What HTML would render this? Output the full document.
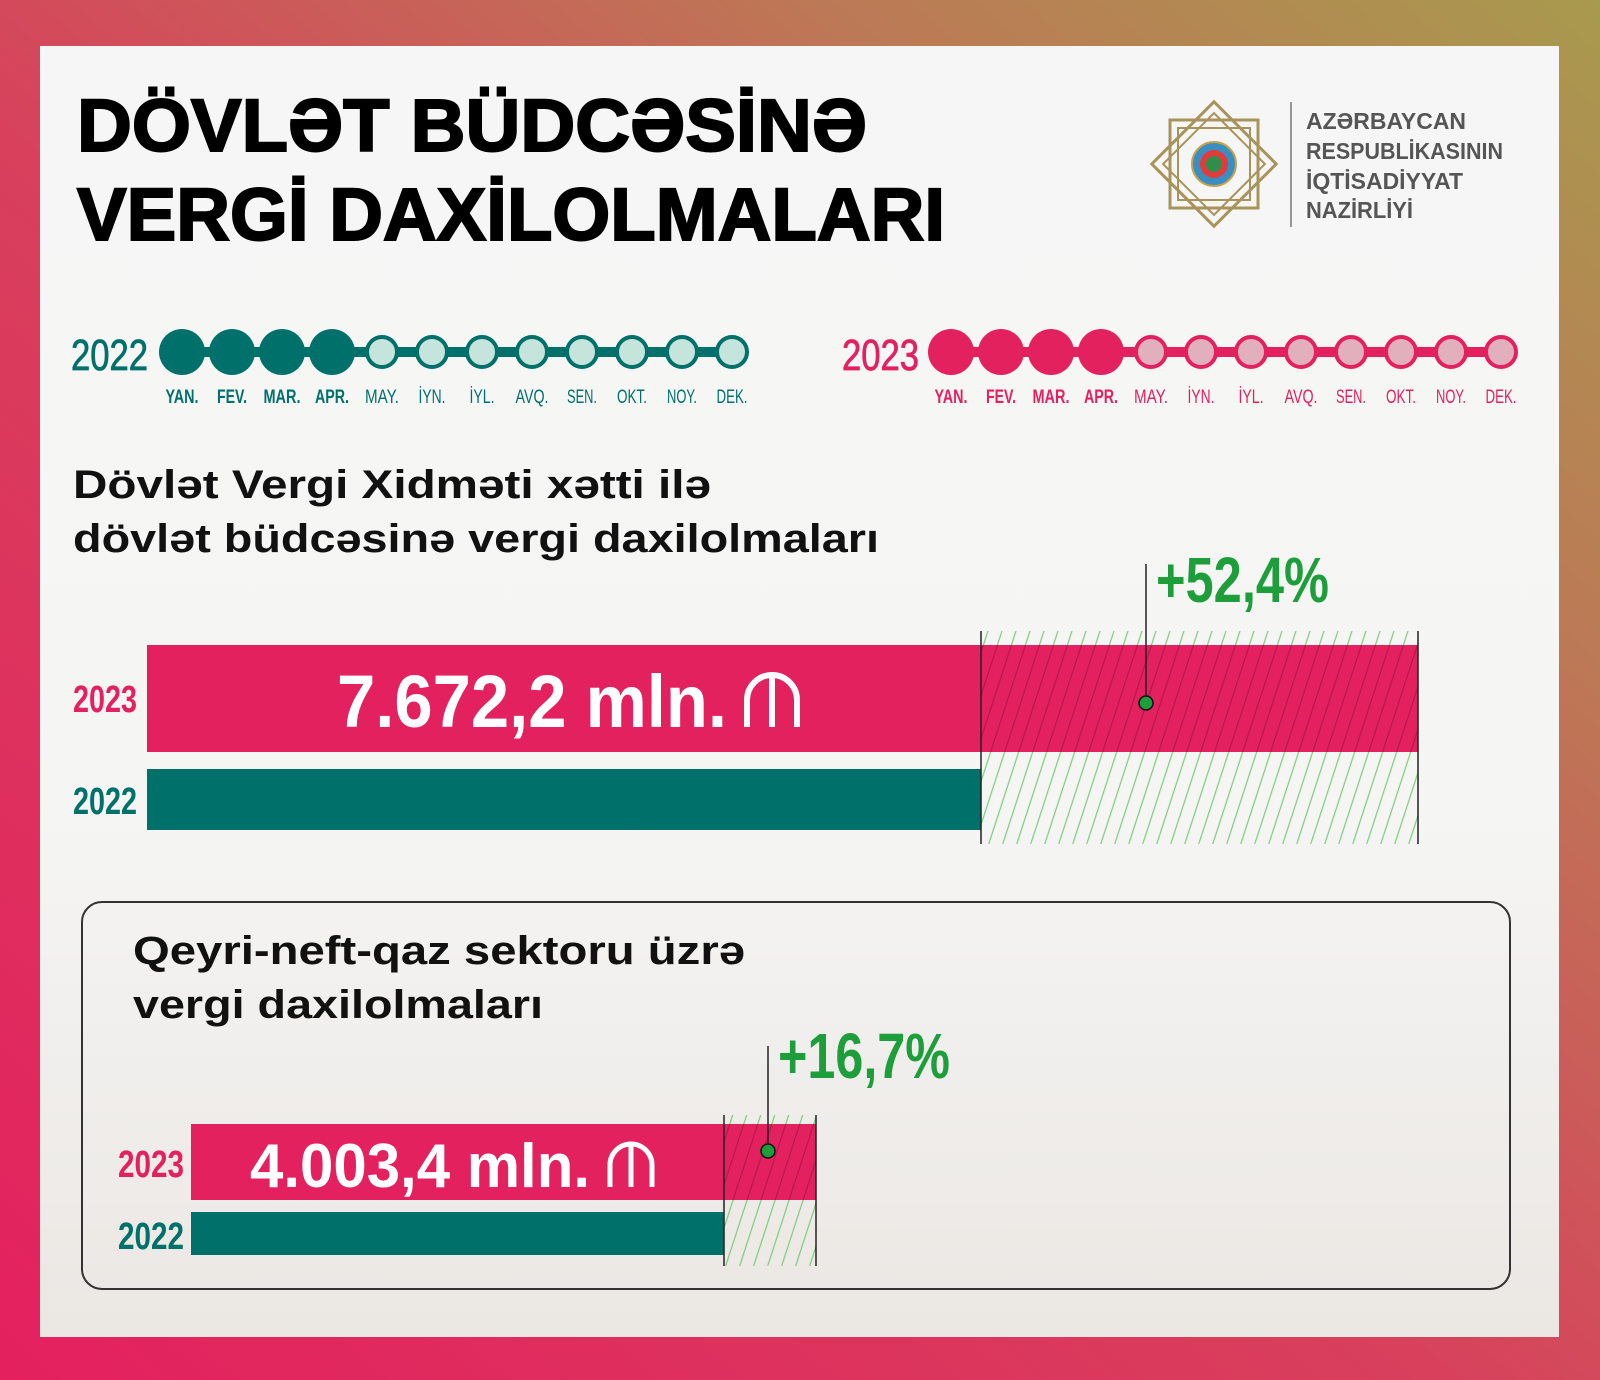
<!DOCTYPE html>
<html><head><meta charset="utf-8"><style>html,body{margin:0;padding:0;width:1600px;height:1380px;overflow:hidden}</style></head>
<body>
<svg width="1600" height="1380" viewBox="0 0 1600 1380" xmlns="http://www.w3.org/2000/svg" font-family="Liberation Sans, sans-serif">
<defs>
<linearGradient id="bg" x1="0" y1="1" x2="1" y2="0">
<stop offset="0" stop-color="#e4205f"/><stop offset="0.45" stop-color="#d8405c"/><stop offset="0.75" stop-color="#bd7856"/><stop offset="1" stop-color="#a89a4e"/>
</linearGradient>
<linearGradient id="inner" x1="0" y1="0" x2="0" y2="1">
<stop offset="0" stop-color="#f6f6f6"/><stop offset="0.6" stop-color="#f5f5f4"/><stop offset="1" stop-color="#ebe7e3"/>
</linearGradient>
<pattern id="hg" width="14" height="40" patternUnits="userSpaceOnUse" patternTransform="skewX(-18)">
<line x1="3" y1="0" x2="3" y2="40" stroke="#7fcb7f" stroke-width="1.3"/>
</pattern>
<pattern id="hp" width="14" height="40" patternUnits="userSpaceOnUse" patternTransform="skewX(-18)">
<line x1="3" y1="0" x2="3" y2="40" stroke="#b8164c" stroke-width="1.3"/>
</pattern>
</defs>
<rect width="1600" height="1380" fill="url(#bg)"/>
<rect x="40" y="46" width="1519" height="1291" fill="url(#inner)"/>

<!-- Title -->
<text x="77" y="151" font-size="74" font-weight="bold" textLength="790" lengthAdjust="spacingAndGlyphs" fill="#000" stroke="#000" stroke-width="2">DÖVLƏT BÜDCƏSİNƏ</text>
<text x="77" y="240" font-size="74" font-weight="bold" textLength="868" lengthAdjust="spacingAndGlyphs" fill="#000" stroke="#000" stroke-width="2">VERGİ DAXİLOLMALARI</text>

<!-- Logo -->
<g transform="translate(1214,164)" fill="none" stroke="#a8945a" stroke-width="3">
<rect x="-44" y="-44" width="88" height="88"/>
<rect x="-44" y="-44" width="88" height="88" transform="rotate(45)"/>
<rect x="-36" y="-36" width="72" height="72" stroke-width="2"/>
<rect x="-36" y="-36" width="72" height="72" transform="rotate(45)" stroke-width="2"/>
<circle r="22" fill="#3a8fc0" stroke="#c9a24a" stroke-width="2"/>
<circle r="14" fill="#e23b3b" stroke="none"/>
<circle r="8" fill="#2f8f4a" stroke="none"/>
</g>
<line x1="1291" y1="102" x2="1291" y2="227" stroke="#777" stroke-width="1.5"/>
<g font-size="23" font-weight="bold" fill="#555">
<text x="1306" y="129" textLength="160" lengthAdjust="spacingAndGlyphs">AZƏRBAYCAN</text>
<text x="1306" y="159" textLength="197" lengthAdjust="spacingAndGlyphs">RESPUBLİKASININ</text>
<text x="1306" y="189" textLength="157" lengthAdjust="spacingAndGlyphs">İQTİSADİYYAT</text>
<text x="1306" y="218" textLength="107" lengthAdjust="spacingAndGlyphs">NAZİRLİYİ</text>
</g>

<!-- Timeline 2022 -->
<text x="71" y="370" font-size="44" fill="#00706b" textLength="77" lengthAdjust="spacingAndGlyphs" stroke="#00706b" stroke-width="0.8">2022</text>
<rect x="182" y="347" width="550" height="10" fill="#00706b"/>
<g fill="#00706b">
<circle cx="182" cy="352" r="23"/><circle cx="232" cy="352" r="23"/><circle cx="282" cy="352" r="23"/><circle cx="332" cy="352" r="23"/>
</g>
<g fill="#c5e4dc" stroke="#00706b" stroke-width="4">
<circle cx="382" cy="352" r="15"/><circle cx="432" cy="352" r="15"/><circle cx="482" cy="352" r="15"/><circle cx="532" cy="352" r="15"/><circle cx="582" cy="352" r="15"/><circle cx="632" cy="352" r="15"/><circle cx="682" cy="352" r="15"/><circle cx="732" cy="352" r="15"/>
</g>
<g font-size="19" fill="#00706b" text-anchor="middle" lengthAdjust="spacingAndGlyphs">
<text x="182" y="403" font-weight="bold" textLength="33" lengthAdjust="spacingAndGlyphs">YAN.</text><text x="232" y="403" font-weight="bold" textLength="30" lengthAdjust="spacingAndGlyphs">FEV.</text><text x="282" y="403" font-weight="bold" textLength="37" lengthAdjust="spacingAndGlyphs">MAR.</text><text x="332" y="403" font-weight="bold" textLength="34" lengthAdjust="spacingAndGlyphs">APR.</text>
<text x="382" y="403" textLength="34" lengthAdjust="spacingAndGlyphs">MAY.</text><text x="432" y="403" textLength="27" lengthAdjust="spacingAndGlyphs">İYN.</text><text x="482" y="403" textLength="25" lengthAdjust="spacingAndGlyphs">İYL.</text><text x="532" y="403" textLength="33" lengthAdjust="spacingAndGlyphs">AVQ.</text><text x="582" y="403" textLength="30" lengthAdjust="spacingAndGlyphs">SEN.</text><text x="632" y="403" textLength="30" lengthAdjust="spacingAndGlyphs">OKT.</text><text x="682" y="403" textLength="30" lengthAdjust="spacingAndGlyphs">NOY.</text><text x="732" y="403" textLength="31" lengthAdjust="spacingAndGlyphs">DEK.</text>
</g>

<!-- Timeline 2023 -->
<text x="842" y="370" font-size="44" fill="#e4215f" textLength="77" lengthAdjust="spacingAndGlyphs" stroke="#e4215f" stroke-width="0.8">2023</text>
<rect x="951" y="347" width="550" height="10" fill="#e4215f"/>
<g fill="#e4215f">
<circle cx="951" cy="352" r="23"/><circle cx="1001" cy="352" r="23"/><circle cx="1051" cy="352" r="23"/><circle cx="1101" cy="352" r="23"/>
</g>
<g fill="#e2b0bd" stroke="#e4215f" stroke-width="4">
<circle cx="1151" cy="352" r="15"/><circle cx="1201" cy="352" r="15"/><circle cx="1251" cy="352" r="15"/><circle cx="1301" cy="352" r="15"/><circle cx="1351" cy="352" r="15"/><circle cx="1401" cy="352" r="15"/><circle cx="1451" cy="352" r="15"/><circle cx="1501" cy="352" r="15"/>
</g>
<g font-size="19" fill="#e4215f" text-anchor="middle">
<text x="951" y="403" font-weight="bold" textLength="33" lengthAdjust="spacingAndGlyphs">YAN.</text><text x="1001" y="403" font-weight="bold" textLength="30" lengthAdjust="spacingAndGlyphs">FEV.</text><text x="1051" y="403" font-weight="bold" textLength="37" lengthAdjust="spacingAndGlyphs">MAR.</text><text x="1101" y="403" font-weight="bold" textLength="34" lengthAdjust="spacingAndGlyphs">APR.</text>
<text x="1151" y="403" textLength="34" lengthAdjust="spacingAndGlyphs">MAY.</text><text x="1201" y="403" textLength="27" lengthAdjust="spacingAndGlyphs">İYN.</text><text x="1251" y="403" textLength="25" lengthAdjust="spacingAndGlyphs">İYL.</text><text x="1301" y="403" textLength="33" lengthAdjust="spacingAndGlyphs">AVQ.</text><text x="1351" y="403" textLength="30" lengthAdjust="spacingAndGlyphs">SEN.</text><text x="1401" y="403" textLength="30" lengthAdjust="spacingAndGlyphs">OKT.</text><text x="1451" y="403" textLength="30" lengthAdjust="spacingAndGlyphs">NOY.</text><text x="1501" y="403" textLength="31" lengthAdjust="spacingAndGlyphs">DEK.</text>
</g>

<!-- Section 1 -->
<text x="73" y="498" font-size="40" font-weight="bold" fill="#111" textLength="638" lengthAdjust="spacingAndGlyphs">Dövlət Vergi Xidməti xətti ilə</text>
<text x="73" y="552" font-size="40" font-weight="bold" fill="#111" textLength="806" lengthAdjust="spacingAndGlyphs">dövlət büdcəsinə vergi daxilolmaları</text>

<rect x="981" y="631" width="437" height="213" fill="url(#hg)"/>
<rect x="147" y="645" width="1271" height="107" fill="#e4215f"/>
<rect x="981" y="645" width="437" height="107" fill="url(#hp)"/>
<rect x="147" y="769" width="834" height="61" fill="#00706b"/>
<line x1="981" y1="631" x2="981" y2="844" stroke="#222" stroke-width="1.5"/>
<line x1="1418" y1="631" x2="1418" y2="844" stroke="#222" stroke-width="1.5"/>
<line x1="1146" y1="564" x2="1146" y2="703" stroke="#222" stroke-width="1.5"/>
<circle cx="1146" cy="703" r="7" fill="#1e9e3a" stroke="#111" stroke-width="1.5"/>
<text x="1156" y="602" font-size="64" font-weight="bold" fill="#1e9e3a" textLength="173" lengthAdjust="spacingAndGlyphs">+52,4%</text>
<text x="73" y="712" font-size="38" font-weight="bold" fill="#e4215f" textLength="64" lengthAdjust="spacingAndGlyphs">2023</text>
<text x="73" y="814" font-size="38" font-weight="bold" fill="#00706b" textLength="64" lengthAdjust="spacingAndGlyphs">2022</text>
<text x="337" y="727" font-size="74" font-weight="bold" fill="#fff" textLength="390" lengthAdjust="spacingAndGlyphs">7.672,2 mln.</text>
<g fill="none" stroke="#fff" stroke-width="6"><path d="M747 727 V700 A25 25 0 0 1 797 700 V727"/><line x1="772" y1="677" x2="772" y2="727"/></g>

<!-- Section 2 box -->
<rect x="82" y="902" width="1428" height="387" rx="20" fill="none" stroke="#333" stroke-width="2"/>
<text x="133" y="964" font-size="40" font-weight="bold" fill="#111" textLength="612" lengthAdjust="spacingAndGlyphs">Qeyri-neft-qaz sektoru üzrə</text>
<text x="133" y="1018" font-size="40" font-weight="bold" fill="#111" textLength="410" lengthAdjust="spacingAndGlyphs">vergi daxilolmaları</text>

<rect x="724" y="1115" width="92" height="151" fill="url(#hg)"/>
<rect x="191" y="1124" width="625" height="76" fill="#e4215f"/>
<rect x="724" y="1124" width="92" height="76" fill="url(#hp)"/>
<rect x="191" y="1212" width="533" height="43" fill="#00706b"/>
<line x1="724" y1="1115" x2="724" y2="1266" stroke="#222" stroke-width="1.5"/>
<line x1="816" y1="1115" x2="816" y2="1266" stroke="#222" stroke-width="1.5"/>
<line x1="768" y1="1046" x2="768" y2="1151" stroke="#222" stroke-width="1.5"/>
<circle cx="768" cy="1151" r="7" fill="#1e9e3a" stroke="#111" stroke-width="1.5"/>
<text x="778" y="1078" font-size="64" font-weight="bold" fill="#1e9e3a" textLength="172" lengthAdjust="spacingAndGlyphs">+16,7%</text>
<text x="118" y="1177" font-size="38" font-weight="bold" fill="#e4215f" textLength="66" lengthAdjust="spacingAndGlyphs">2023</text>
<text x="118" y="1249" font-size="38" font-weight="bold" fill="#00706b" textLength="66" lengthAdjust="spacingAndGlyphs">2022</text>
<text x="250" y="1187" font-size="62" font-weight="bold" fill="#fff" textLength="340" lengthAdjust="spacingAndGlyphs">4.003,4 mln.</text>
<g fill="none" stroke="#fff" stroke-width="5"><path d="M610 1187 V1165 A21 21 0 0 1 652 1165 V1187"/><line x1="631" y1="1146" x2="631" y2="1187"/></g>
</svg>
</body></html>
